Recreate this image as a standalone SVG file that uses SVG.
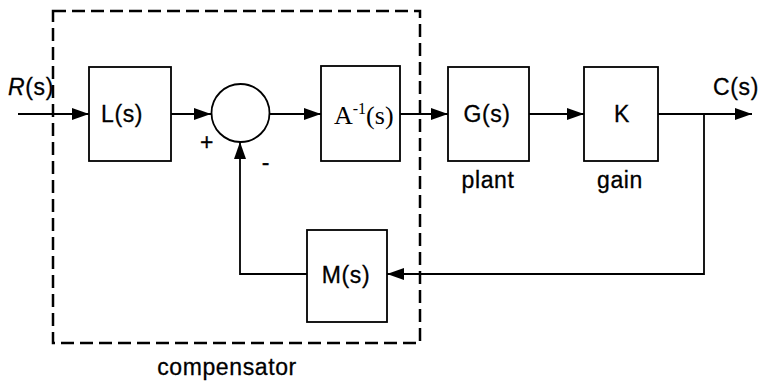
<svg xmlns="http://www.w3.org/2000/svg" width="758" height="381" viewBox="0 0 758 381">
<defs>
<style>
.box{fill:#fff;stroke:#000;stroke-width:1.8}
.ln{fill:none;stroke:#000;stroke-width:1.8}
.t{font-family:"Liberation Sans",Arial,sans-serif;font-size:23px;letter-spacing:0.6px;fill:#000;stroke:#000;stroke-width:0.3;text-anchor:middle}
.ts{font-family:"Liberation Serif","Times New Roman",serif;font-size:26px;fill:#000}
.dash{fill:none;stroke:#000;stroke-width:2.5;stroke-dasharray:13 6}
</style>
<marker id="ah" markerWidth="18" markerHeight="14" refX="17" refY="7" orient="auto" markerUnits="userSpaceOnUse">
<path d="M0,1 L17,7 L0,13 Z" fill="#000"/>
</marker>
</defs>
<rect width="758" height="381" fill="#fff"/>
<g id="compensator">
<rect class="dash" x="53" y="11" width="367" height="332"/>
<text class="t" x="227" y="375">compensator</text>
</g>
<g id="connectors">
<line class="ln" x1="18" y1="114" x2="89" y2="114" marker-end="url(#ah)"/>
<line class="ln" x1="171" y1="114" x2="211" y2="114" marker-end="url(#ah)"/>
<line class="ln" x1="270" y1="114" x2="321" y2="114" marker-end="url(#ah)"/>
<line class="ln" x1="400" y1="114" x2="448" y2="114" marker-end="url(#ah)"/>
<line class="ln" x1="529" y1="114" x2="584" y2="114" marker-end="url(#ah)"/>
<line class="ln" x1="658" y1="114" x2="752" y2="114" marker-end="url(#ah)"/>
<polyline class="ln" points="704,114 704,274 387,274" marker-end="url(#ah)"/>
<polyline class="ln" points="307,274 240,274 240,142" marker-end="url(#ah)"/>
</g>
<g id="R"><text class="t" x="31" y="95"><tspan font-style="italic">R</tspan>(s)</text></g>
<g id="C"><text class="t" x="736" y="95">C(s)</text></g>
<g id="L"><rect class="box" x="89" y="67" width="82" height="94"/><text class="t" x="122" y="122" text-anchor="middle">L(s)</text></g>
<g id="sum"><circle class="box" cx="240.5" cy="113" r="29"/>
<text class="t" x="207" y="150">+</text><text class="t" x="266" y="170">-</text></g>
<g id="A"><rect class="box" x="321" y="66" width="79" height="95"/>
<text class="ts" x="334" y="124">A<tspan font-size="16" dy="-10">-1</tspan><tspan dy="10">(s)</tspan></text></g>
<g id="G"><rect class="box" x="448" y="67" width="81" height="94"/><text class="t" x="487" y="122">G(s)</text>
<text class="t" x="488" y="188">plant</text></g>
<g id="K"><rect class="box" x="584" y="67" width="74" height="94"/><text class="t" x="622" y="122">K</text>
<text class="t" x="620" y="188">gain</text></g>
<g id="M"><rect class="box" x="307" y="230" width="80" height="92"/><text class="t" x="346" y="283">M(s)</text></g>
</svg>
